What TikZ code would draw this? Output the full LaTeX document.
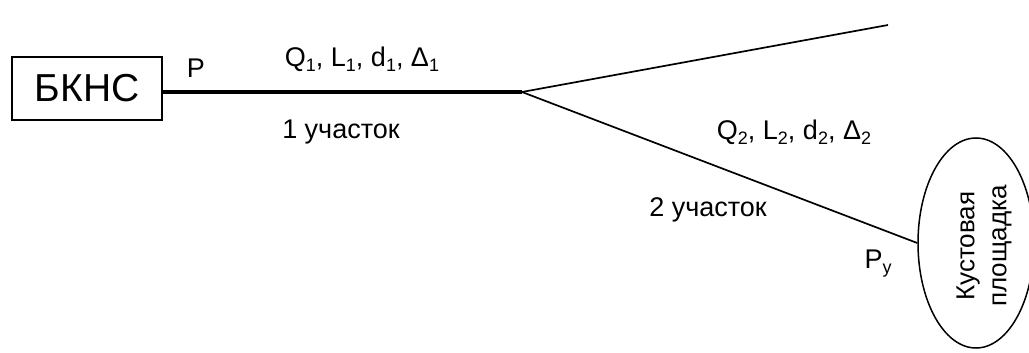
\documentclass[tikz,border=0pt]{standalone}
\usepackage{fontspec}
\setmainfont{Liberation Sans}
\usetikzlibrary{shapes.geometric}
\newcommand\lowidx[1]{\raisebox{-0.35ex}{\fontsize{18}{18}\selectfont #1}}
\tikzset{
  lbl/.style={font=\fontsize{27}{30}\selectfont, inner sep=0pt},
  pipe/.style={line width=1.7pt},
  mainpipe/.style={line width=3.2pt},
}
\begin{document}
\begin{tikzpicture}[x=1pt,y=-1pt]
\useasboundingbox (0,0) rectangle (1029,353);
\clip (0,0) rectangle (1029,353);
\node[draw, line width=1.5pt, minimum width=150pt, minimum height=63pt, inner sep=0pt,
      font=\fontsize{39}{42}\selectfont] (bkns) at (87,88.5) {БКНС};
\coordinate (j) at (522,92);
\coordinate (up) at (888,25);
\node[draw, ellipse, line width=1.5pt, minimum width=116pt, minimum height=210pt, inner sep=0pt] (kp) at (976,243) {};
\node[rotate=90, align=center, font=\fontsize{26}{32}\selectfont] (kptext) at (984,246) {Кустовая\\площадка};
\draw[mainpipe] (bkns.east |- j) -- (j);
\draw[pipe] (j) -- (up);
\draw[pipe] (j) -- (kp.west);
\node[lbl] (p) at (196,68) {P};
\node[lbl] (q1) at (362,59) {Q\lowidx{1}, L\lowidx{1}, d\lowidx{1}, Δ\lowidx{1}};
\node[lbl] (u1) at (341,132) {1 участок};
\node[lbl] (q2) at (794,132) {Q\lowidx{2}, L\lowidx{2}, d\lowidx{2}, Δ\lowidx{2}};
\node[lbl] (u2) at (708,210) {2 участок};
\node[lbl] (py) at (878,264) {P\lowidx{y}};
\end{tikzpicture}
\end{document}
